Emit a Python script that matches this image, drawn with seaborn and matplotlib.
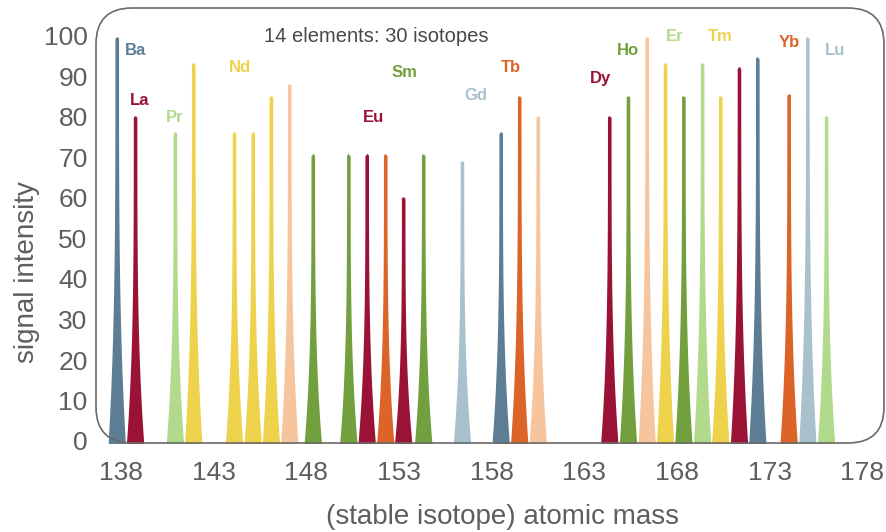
import numpy as np
import pandas as pd
import matplotlib
matplotlib.use("Agg")
import matplotlib.pyplot as plt
import seaborn as sns
from matplotlib.patches import FancyBboxPatch

# ---- data ----
masses = [137.77, 138.76, 140.91, 141.90, 144.10, 145.11, 146.09, 147.08,
          148.35, 150.27, 151.26, 152.26, 153.23, 154.31, 156.40, 158.49,
          159.49, 160.49, 164.35, 165.36, 166.37, 167.36, 168.35, 169.36,
          170.34, 171.35, 172.34, 174.03, 175.04, 176.05]
intensity = [99.5, 80, 76, 93, 76, 76, 85, 88,
             70.5, 70.5, 70.5, 70.5, 60, 70.5, 69, 76,
             85, 80, 80, 85, 99.5, 93, 85, 93,
             85, 92, 94.5, 85.5, 99.5, 80]
peak_color = ["steel", "crimson", "lgreen", "yellow", "yellow", "yellow", "yellow", "peach",
              "green", "green", "crimson", "orange", "crimson", "green", "lblue", "steel",
              "orange", "peach", "crimson", "green", "peach", "yellow", "green", "lgreen",
              "yellow", "crimson", "steel", "orange", "lblue", "lgreen"]

elements = ["Ba", "La", "Pr", "Nd", "Eu", "Sm", "Gd", "Tb", "Dy", "Ho", "Er", "Tm", "Yb", "Lu"]
elem_x = [138.76, 139.0, 140.92, 144.42, 151.6, 153.3, 157.16, 159.05, 163.9, 165.36, 167.9, 170.33, 174.05, 176.54]
elem_y = [96.5, 84.0, 79.8, 92.3, 79.8, 90.9, 85.2, 92.3, 89.6, 96.5, 99.8, 99.8, 98.5, 96.5]
elem_color = ["steel", "crimson", "lgreen", "yellow", "crimson", "green", "lblue", "orange",
              "crimson", "green", "lgreen", "yellow", "orange", "lblue"]

x_ticks = [138, 143, 148, 153, 158, 163, 168, 173, 178]
y_ticks = list(range(0, 101, 10))
title_text = "14 elements: 30 isotopes"
x_label = "(stable isotope) atomic mass"
y_label = "signal intensity"

palette = {
    "steel": "#5d7d94",
    "crimson": "#9a1236",
    "lgreen": "#b2da8c",
    "yellow": "#eed24c",
    "peach": "#f6c59e",
    "green": "#72a03e",
    "orange": "#dc6429",
    "lblue": "#a9c0cd",
}

df = pd.DataFrame({"mass": masses, "intensity": intensity, "color": peak_color})

# ---- figure ----
sns.set_theme(style="white")
plt.rcParams["font.family"] = ["Liberation Sans", "DejaVu Sans"]

W, H = 886, 532
fig = plt.figure(figsize=(W / 100, H / 100), dpi=100)
left_px, right_px, top_px, bottom_px = 96, 884, 8, 443
ax_w, ax_h = right_px - left_px, bottom_px - top_px
ax = fig.add_axes([left_px / W, (H - bottom_px) / H, ax_w / W, ax_h / H])

px_per_unit_x = 18.53
px_per_unit_y = 4.05
ax.set_xlim(138 - (121 - left_px) / px_per_unit_x, 138 + (right_px - 121) / px_per_unit_x)
ax.set_ylim(-(bottom_px - 441) / px_per_unit_y, (441 - top_px) / px_per_unit_y)

# peak profile (shape styling)
half_base = 8.5 / px_per_unit_x
half_tip = 1.8 / px_per_unit_x
t = np.linspace(0, 1, 160)
for _, r in df.iterrows():
    y = t * r["intensity"]
    hw = half_tip + (half_base - half_tip) * (1 - t) ** 3.5
    ax.fill_betweenx(np.concatenate([[-1], y]),
                     np.concatenate([[r["mass"] - half_base], r["mass"] - hw]),
                     np.concatenate([[r["mass"] + half_base], r["mass"] + hw]),
                     color=palette[r["color"]], linewidth=0, zorder=3)
    ax.scatter([r["mass"]], [r["intensity"]], s=3.2, color=palette[r["color"]],
               linewidths=0, zorder=3)

for name, ex, ey, ec in zip(elements, elem_x, elem_y, elem_color):
    ax.text(ex, ey, name, color=palette[ec], fontsize=12, fontweight="bold",
            ha="center", va="center", zorder=4)

ax.text(151.76, 99.8, title_text, color="#484848", fontsize=14.5,
        ha="center", va="center")

ax.set_xticks(x_ticks)
ax.set_yticks(y_ticks)
ax.tick_params(axis="both", length=0, labelsize=19, labelcolor="#5e5e5e")
ax.tick_params(axis="x", pad=13)
ax.tick_params(axis="y", pad=6)
ax.set_xlabel(x_label, fontsize=20, color="#5e5e5e")
ax.set_ylabel(y_label, fontsize=20, color="#5e5e5e")
ax.xaxis.set_label_coords((503 - left_px) / ax_w, (bottom_px - 517) / ax_h)
ax.xaxis.label.set_verticalalignment("center")
ax.yaxis.set_label_coords((27 - left_px) / ax_w, (bottom_px - 272) / ax_h)
ax.yaxis.label.set_verticalalignment("center")
ax.yaxis.label.set_horizontalalignment("center")
sns.despine(ax=ax, left=True, bottom=True)
ax.patch.set_alpha(0)

box = FancyBboxPatch((left_px / 100, (H - bottom_px) / 100),
                     ax_w / 100, ax_h / 100,
                     boxstyle="round,pad=0,rounding_size=0.36",
                     transform=fig.dpi_scale_trans, fill=False,
                     edgecolor="#6a6a6a", linewidth=1.2, zorder=5)
fig.add_artist(box)

fig.savefig("out.png", dpi=100)
